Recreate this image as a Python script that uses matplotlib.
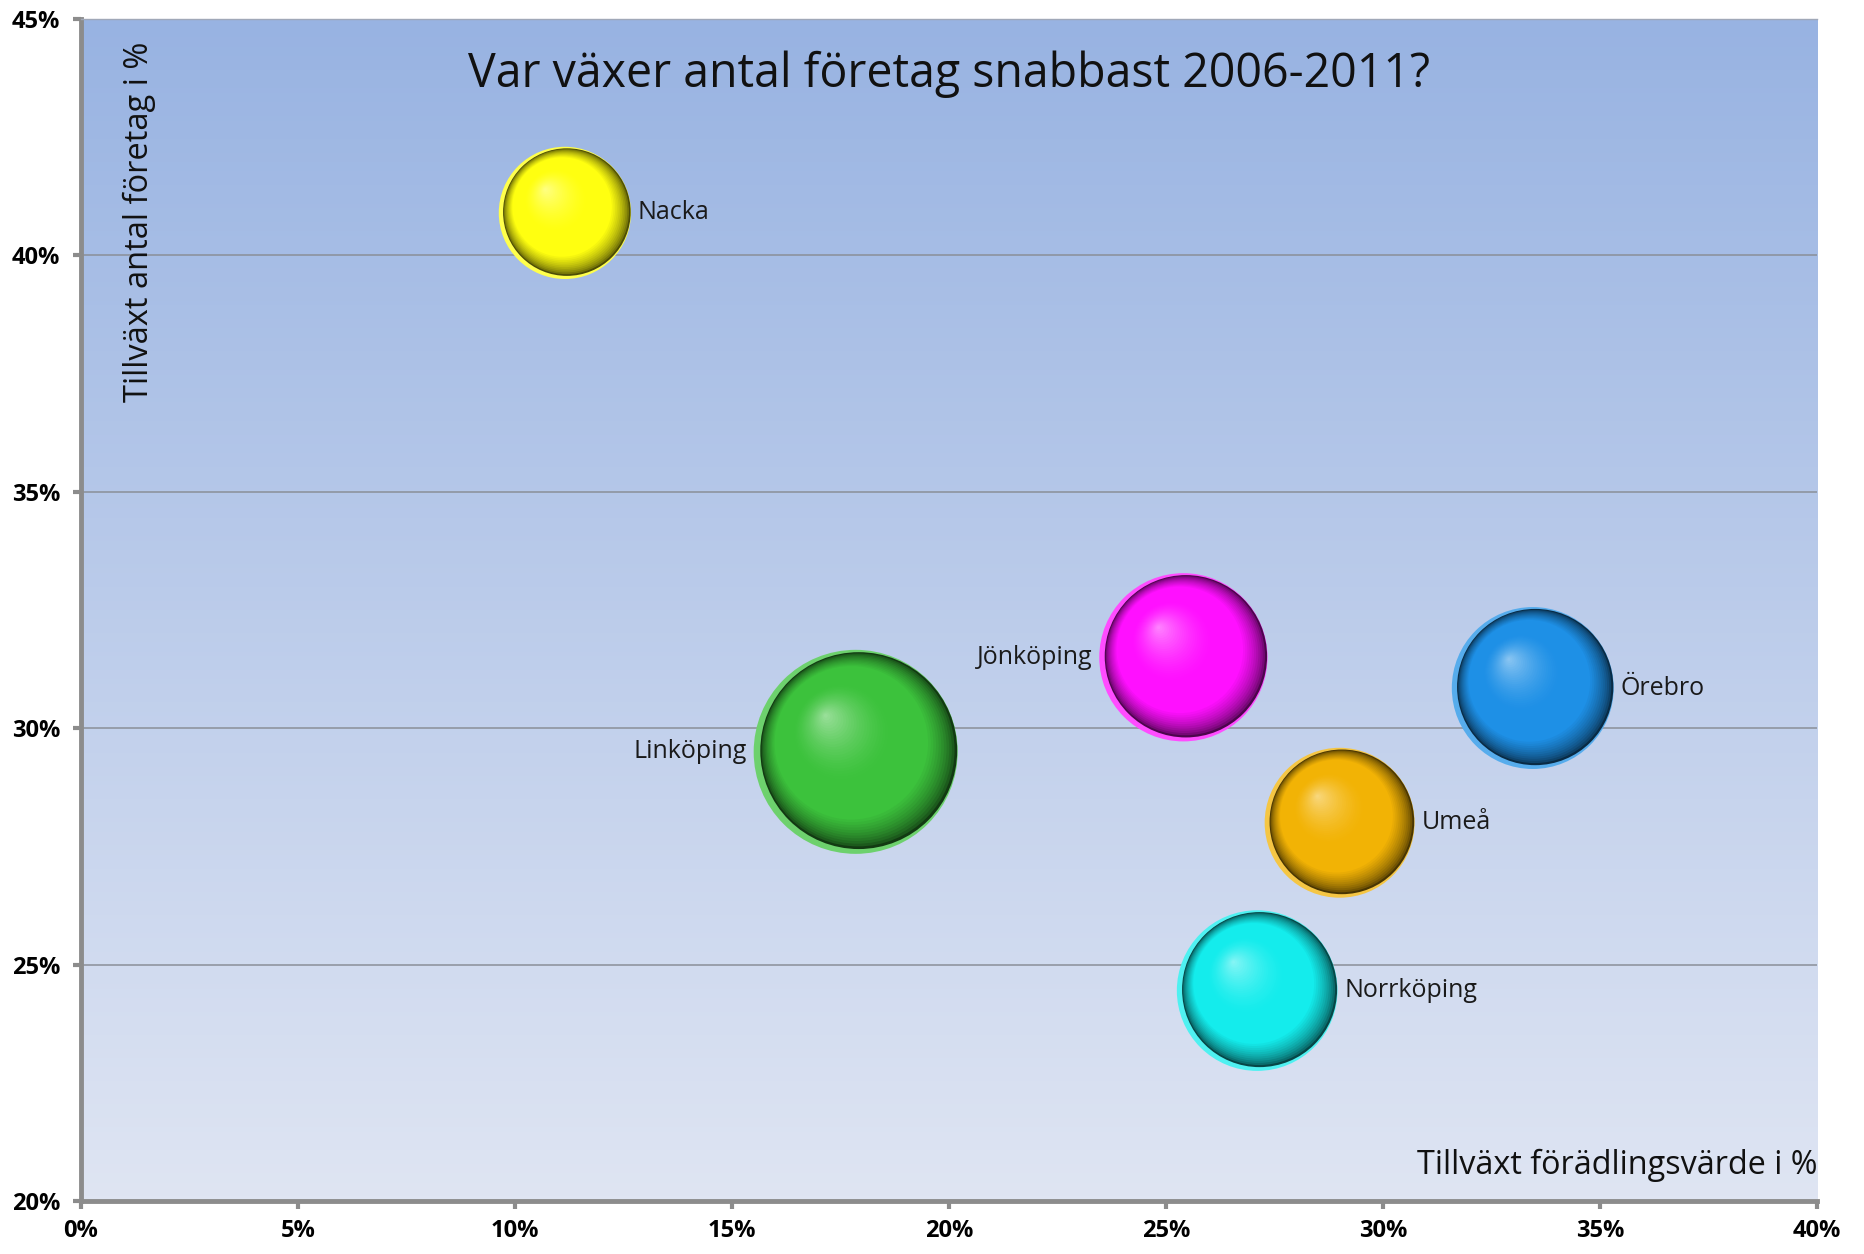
import numpy as np
import matplotlib.pyplot as plt
from matplotlib.colors import to_rgb
from matplotlib.transforms import offset_copy

# Data
cities = ['Nacka', 'Linköping', 'Jönköping', 'Örebro', 'Umeå', 'Norrköping']
growth_value = [11.15, 17.85, 25.4, 33.45, 29.0, 27.1]      # Tillväxt förädlingsvärde i %
growth_firms = [40.9, 29.5, 31.5, 30.85, 28.0, 24.45]       # Tillväxt antal företag i %
bubble_size = [42, 100, 68, 63, 54, 62]
colors = ['#ffff10', '#3cc23c', '#ff10ff', '#1e90e6', '#f2b305', '#14ecec']
label_side = ['right', 'left', 'left', 'right', 'right', 'right']

x_ticks = [0, 5, 10, 15, 20, 25, 30, 35, 40]
y_ticks = [20, 25, 30, 35, 40, 45]

fig = plt.figure(figsize=(18.65, 12.54), dpi=100)
ax = fig.add_axes([0.0434, 0.0423, 0.9309, 0.9425])
ax.set_xlim(0, 40)
ax.set_ylim(20, 45)

# gradient background
grad = np.linspace(0, 1, 256).reshape(-1, 1)
top_c = np.array(to_rgb('#98b3e2'))
bot_c = np.array(to_rgb('#dfe5f3'))
img = top_c * (1 - grad[..., None]) + bot_c * grad[..., None]
ax.imshow(img, extent=[0, 1, 0, 1], transform=ax.transAxes, aspect='auto', zorder=0)

ax.set_yticks(y_ticks)
ax.set_xticks(x_ticks)
ax.grid(axis='y', color='#8a8f98', linewidth=1.1, zorder=1)
ax.set_yticklabels([f'{t}%' for t in y_ticks], fontweight='bold', fontsize=17, family='Open Sans')
ax.set_xticklabels([f'{t}%' for t in x_ticks], fontweight='bold', fontsize=17, family='Open Sans')
ax.tick_params(axis='both', direction='out', length=6, width=3, color='#8c8c8c', pad=7)
ax.tick_params(axis='y', pad=9)
for s in ['left', 'bottom']:
    ax.spines[s].set_color('#8c8c8c')
    ax.spines[s].set_linewidth(3.5)
ax.spines['top'].set_color('#a0a8b8')
ax.spines['top'].set_linewidth(1)
ax.spines['right'].set_visible(False)

# shaded spheres
n_layers = 50
scale = 215.8
white = np.ones(3)
for x, y, sz, c, name, side in zip(growth_value, growth_firms, bubble_size, colors, cities, label_side):
    base = np.array(to_rgb(c))
    s_full = sz * scale
    r_pt = np.sqrt(s_full) / 2
    # bright reflected rim
    rim = base + (white - base) * 0.25
    ax.scatter([x], [y], s=s_full, color=rim, edgecolors='none', zorder=3)
    c0 = np.array([0.03, 0.012])
    hl = np.array([-0.3, 0.36])
    for k in range(n_layers):
        f = k / n_layers
        rad = 0.965 * (1 - f)
        if f < 0.22:
            col = base * (0.3 + 0.7 * (f / 0.22) ** 0.6)
        elif f < 0.5:
            col = base
        else:
            t = (f - 0.5) / 0.5
            col = base + (white - base) * 0.5 * t ** 1.5
        col = np.clip(col, 0, 1)
        d = (c0 + (hl - c0) * f) * r_pt
        tr = offset_copy(ax.transData, fig=fig, x=d[0], y=d[1], units='points')
        ax.scatter([x], [y], s=s_full * rad ** 2, color=col, edgecolors='none',
                   transform=tr, zorder=3)
    off = r_pt + 5
    if side == 'right':
        ax.annotate(name, (x, y), xytext=(off, 0), textcoords='offset points',
                    ha='left', va='center', fontsize=18, family='Open Sans', color='#1a1a1a', zorder=4)
    else:
        ax.annotate(name, (x, y), xytext=(-off, 0), textcoords='offset points',
                    ha='right', va='center', fontsize=18, family='Open Sans', color='#1a1a1a', zorder=4)

ax.text(0.5, 0.953, 'Var växer antal företag snabbast 2006-2011?', transform=ax.transAxes,
        ha='center', va='center', fontsize=33.5, family='Open Sans', color='#111111', zorder=4)
ax.text(0.0336, 0.981, 'Tillväxt antal företag i %', transform=ax.transAxes, rotation=90,
        ha='center', va='top', fontsize=23.5, family='Open Sans', color='#111111', zorder=4)
ax.text(1.0, 0.016, 'Tillväxt förädlingsvärde i %', transform=ax.transAxes,
        ha='right', va='bottom', fontsize=23.3, family='Open Sans', color='#111111', zorder=4)

fig.savefig('out.png', dpi=100)
